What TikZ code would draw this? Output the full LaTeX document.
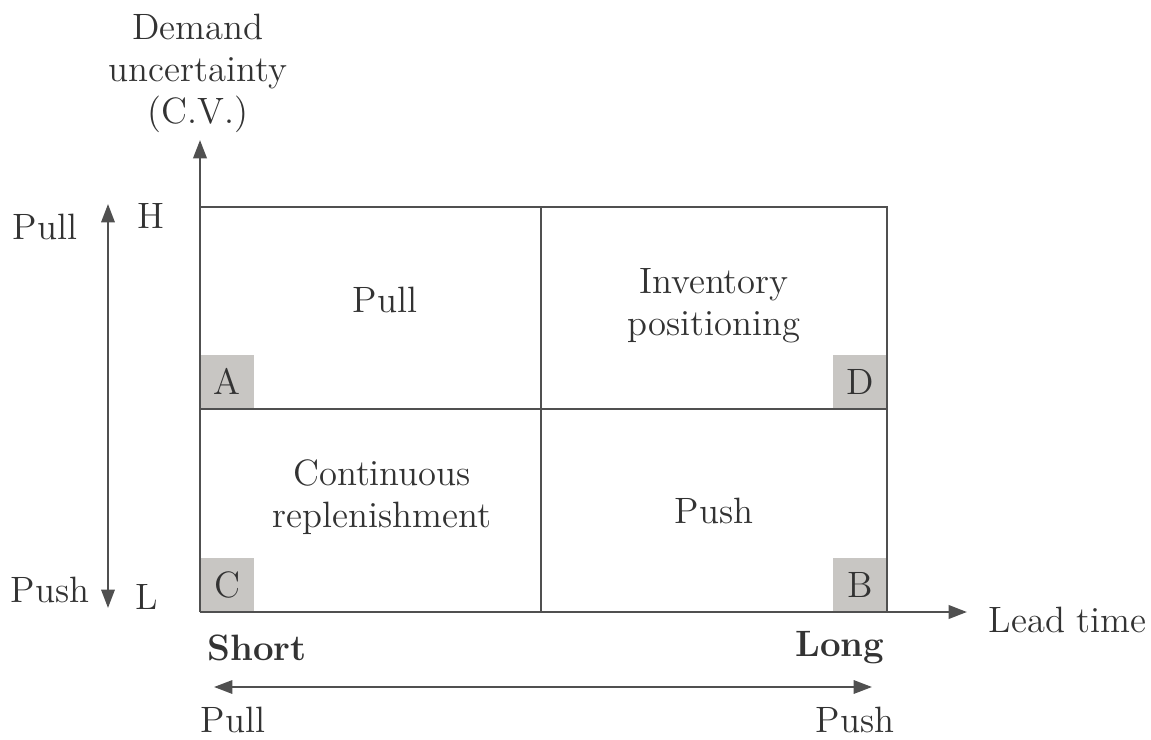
\documentclass[tikz,border=0pt]{standalone}
\usetikzlibrary{arrows.meta}
\definecolor{ln}{HTML}{505050}
\definecolor{tx}{HTML}{333333}
\definecolor{cellgray}{HTML}{C8C6C3}
\begin{document}
\begin{tikzpicture}[x=0.3pt,y=-0.3pt,
  lbl/.style={text=tx,font=\fontsize{11}{12.6}\selectfont,inner sep=0pt,align=center},
  blbl/.style={lbl,font=\fontsize{11}{12.6}\selectfont\bfseries},
  corner/.style={fill=cellgray,minimum size=15.9pt,inner sep=0pt,text=tx,font=\fontsize{11}{12.6}\selectfont},
  tip/.tip={Triangle[length=5.5pt,width=4pt]},
  axis/.style={draw=ln,line width=0.8pt,-tip},
  dbl/.style={draw=ln,line width=0.65pt,tip-tip},
  grid/.style={draw=ln,line width=0.65pt}]
\useasboundingbox (0,0) rectangle (1151,740);
% corner boxes
\node[corner,anchor=south west] (A) at (200,409) {A};
\node[corner,anchor=south west] (C) at (200,612) {C};
\node[corner,anchor=south east] (D) at (887,409) {D};
\node[corner,anchor=south east] (B) at (887,612) {B};
% grid
\coordinate (o) at (200,612);
\coordinate (tl) at (200,207);
\coordinate (tr) at (887,207);
\coordinate (br) at (887,612);
\coordinate (mt) at (541,207);
\coordinate (mb) at (541,612);
\coordinate (ml) at (200,409);
\coordinate (mr) at (887,409);
\draw[grid] (tl) -- (tr) -- (br);
\draw[grid] (mt) -- (mb);
\draw[grid] (ml) -- (mr);
% axes
\coordinate (ytip) at (200,140);
\coordinate (xtip) at (967,612);
\draw[axis] (o) -- (ytip);
\draw[axis] (o) -- (xtip);
% axis labels
\node[lbl] (ylab) at (198,73) {Demand\\uncertainty\\(C.V.)};
\node[lbl,anchor=west] (xlab) at (988,620) {Lead time};
% left arrow
\coordinate (lt) at (108,204);
\coordinate (lb) at (108,608);
\draw[dbl] (lb) -- (lt);
\node[lbl] (pullL) at (45,227) {Pull};
\node[lbl] (H) at (151,216) {H};
\node[lbl] (pushL) at (50,590) {Push};
\node[lbl] (L) at (147,597) {L};
% bottom
\node[blbl] (short) at (257,648) {Short};
\node[blbl] (long) at (840,648) {Long};
\coordinate (bl) at (214,687);
\coordinate (br2) at (872,687);
\draw[dbl] (bl) -- (br2);
\node[lbl] (pullB) at (233,720) {Pull};
\node[lbl] (pushB) at (855,720) {Push};
% cell labels
\node[lbl] (pullC) at (385,300) {Pull};
\node[lbl] (inv) at (714,306) {Inventory\\positioning};
\node[lbl] (cont) at (382,497) {Continuous\\replenishment};
\node[lbl] (pushC) at (714,511) {Push};
\end{tikzpicture}
\end{document}
